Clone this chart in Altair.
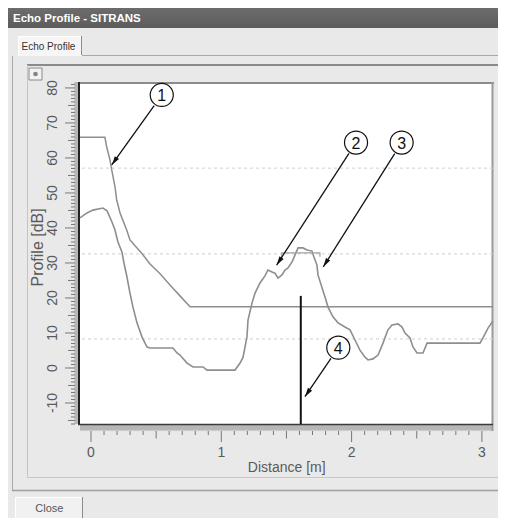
import math
import altair as alt
import pandas as pd

# ---------------- data ----------------
echo_dist = [-0.084, -0.031, 0.015, 0.092, 0.123, 0.161, 0.184, 0.207, 0.238, 0.253,
             0.276, 0.299, 0.322, 0.353, 0.391, 0.430, 0.453, 0.530, 0.629, 0.660,
             0.683, 0.737, 0.783, 0.860, 0.890, 0.990, 1.105, 1.144, 1.167, 1.197,
             1.205, 1.236, 1.259, 1.297, 1.335, 1.358, 1.389, 1.412, 1.435, 1.466,
             1.489, 1.512, 1.543, 1.566, 1.589, 1.627, 1.658, 1.696, 1.711, 1.734,
             1.742, 1.773, 1.796, 1.819, 1.857, 1.896, 1.949, 1.988, 2.026, 2.064,
             2.103, 2.126, 2.164, 2.203, 2.241, 2.279, 2.310, 2.356, 2.387, 2.410,
             2.448, 2.471, 2.502, 2.548, 2.579, 2.625, 2.985, 3.008, 3.047, 3.085]
echo_db = [42.9, 44.3, 45.1, 45.7, 44.9, 41.7, 39.4, 36.0, 33.1, 30.0,
           26.0, 21.4, 17.4, 12.9, 8.9, 6.0, 5.7, 5.7, 5.7, 4.3,
           3.7, 1.4, 0.3, 0.3, -0.6, -0.6, -0.6, 1.4, 3.1, 8.9,
           13.7, 18.6, 21.4, 24.3, 26.3, 28.0, 27.4, 27.1, 25.7, 26.6,
           28.0, 28.6, 30.3, 32.3, 34.3, 34.3, 33.7, 33.4, 31.7, 29.4,
           26.6, 22.9, 20.3, 17.4, 14.6, 12.9, 11.7, 10.9, 8.0, 5.1,
           3.1, 2.3, 2.6, 3.7, 7.1, 10.9, 12.3, 12.6, 11.7, 10.0,
           8.6, 6.0, 4.3, 4.3, 7.1, 7.1, 7.1, 8.6, 11.4, 13.4]

tvt_dist = [-0.084, 0.107, 0.120, 0.146, 0.159, 0.184, 0.197, 0.223, 0.274, 0.299,
            0.338, 0.389, 0.453, 0.530, 0.606, 0.683, 0.760, 3.085]
tvt_db = [65.9, 65.9, 63.2, 59.4, 56.6, 51.8, 48.0, 44.3, 39.4, 36.6,
          34.9, 32.8, 29.7, 26.9, 23.7, 20.6, 17.5, 17.5]

bracket_dist = [1.464, 1.464, 1.757, 1.757]
bracket_db = [31.8, 32.9, 32.9, 31.8]

marker_dist = 1.61
marker_db = [-16.0, 20.6]

grid_db = [57.1, 32.6, 8.3]

x_labels = [0, 1, 2, 3]
y_labels = [-10, 0, 10, 20, 30, 40, 50, 60, 70, 80]
x_title = "Distance [m]"
y_title = "Profile [dB]"

callout_text = ["1", "2", "3", "4"]
callout_cx = [0.543, 2.034, 2.384, 1.898]
callout_cy = [78.0, 64.4, 64.4, 5.8]
callout_tx = [0.159, 1.425, 1.783, 1.642]
callout_ty = [58.0, 29.4, 28.9, -8.2]

# ---------------- layout ----------------
X_DOM = [-0.0844, 3.0852]
Y_DOM = [-16.0, 81.7]
W, H = 413, 342
OX, OY = 80, 82          # picture position of the plot's top-left corner (chrome only)
FONT = "Liberation Sans"
TXT = "#5a5a5a"
TICK = "#777777"
XS = alt.Scale(domain=X_DOM, nice=False, zero=False)
YS = alt.Scale(domain=Y_DOM, nice=False, zero=False)
one = pd.DataFrame({"k": [0]})


def rect(x0, y0, x1, y1, **kw):
    return alt.Chart(one).mark_rect(**kw).encode(
        x=alt.value(x0 - OX), x2=alt.value(x1 - OX),
        y=alt.value(y0 - OY), y2=alt.value(y1 - OY))


def hline(x0, x1, y, color, w=1.0):
    return alt.Chart(one).mark_rule(color=color, strokeWidth=w).encode(
        x=alt.value(x0 - OX), x2=alt.value(x1 - OX), y=alt.value(y - OY))


def vline(x, y0, y1, color, w=1.0):
    return alt.Chart(one).mark_rule(color=color, strokeWidth=w).encode(
        x=alt.value(x - OX), y=alt.value(y0 - OY), y2=alt.value(y1 - OY))


def label(x, y, s, **kw):
    return alt.Chart(one).mark_text(text=s, font=FONT, **kw).encode(
        x=alt.value(x - OX), y=alt.value(y - OY))


# ---------------- window chrome ----------------
chrome = [
    rect(0, 0, 510, 28, fill={"gradient": "linear", "x1": 0, "x2": 0, "y1": 0, "y2": 1,
                              "stops": [{"offset": 0, "color": "#8a8a8a"},
                                        {"offset": 0.3, "color": "#6c6c6c"},
                                        {"offset": 1, "color": "#5c5c5c"}]}),
    label(13, 21.5, "Echo Profile - SITRANS", fontSize=11.5, fontWeight="bold",
          color="white", align="left", baseline="alphabetic"),
    # tab
    rect(18, 36, 82, 56, fill="#f6f6f6"),
    hline(18, 81, 36.5, "#ffffff"),
    vline(18.5, 36, 56, "#ffffff"),
    vline(81.5, 36, 55, "#8c8c8c"),
    label(21.5, 49.5, "Echo Profile", fontSize=10, color="#333333",
          align="left", baseline="alphabetic"),
    # tab page
    hline(82, 510, 55.5, "#a8a8a8"),
    vline(12.5, 56, 490, "#a8a8a8"),
    hline(12, 510, 490.5, "#a0a0a0", 1.5),
    # inner chart panel
    hline(27, 510, 65, "#8a8a8a", 2),
    vline(27.5, 65, 477, "#c4c4c4"),
    hline(27, 510, 477.5, "#c8c8c8"),
    rect(29, 68, 42, 80, fill="#f2f2f2", stroke="#8a8a8a", strokeWidth=1),
    alt.Chart(one).mark_point(shape="circle", filled=True, color="#555555", size=22).encode(
        x=alt.value(35.5 - OX), y=alt.value(74 - OY)),
    # scroll bars on the axes
    rect(74.5, 82, 79, 424, fill="#b6b6b6"),
    rect(80, 424, 493, 431, fill="#b6b6b6"),
    hline(80, 493, 431, "#e4e4e4"),
    # plot frame
    hline(78, 494, 83, "#8c8c8c", 2),
    vline(492.5, 82, 431, "#9a9a9a", 2),
    vline(79, 82, 425, "#222222", 2),
    hline(78, 493, 424.5, "#3a3a3a", 1.5),
    # close button
    rect(15, 497, 83, 519, fill="#f1f1f1"),
    hline(15, 83, 497.5, "#ffffff"),
    vline(15.5, 497, 519, "#ffffff"),
    vline(82.5, 497, 519, "#8a8a8a"),
    label(49.3, 511.5, "Close", fontSize=11, color="#555555",
          align="center", baseline="alphabetic"),
    # axis titles
    label(286.7, 471.7, x_title, fontSize=14, color=TXT, align="center",
          baseline="alphabetic"),
    label(43.3, 247.4, y_title, fontSize=16, color=TXT, align="center",
          baseline="alphabetic", angle=270),
]

# ---------------- axis ticks and labels (through the scales) ----------------
y_minor = pd.DataFrame({"v": [v for v in range(-16, 82) if v % 5 != 0]})
y_mid = pd.DataFrame({"v": [v for v in range(-15, 82, 10)]})
y_major = pd.DataFrame({"v": y_labels, "t": [str(v) for v in y_labels]})
x_minor = pd.DataFrame({"v": [i / 10 for i in range(0, 31) if i % 5 != 0]})
x_mid = pd.DataFrame({"v": [0.5, 1.5, 2.5]})
x_major = pd.DataFrame({"v": x_labels, "t": [str(v) for v in x_labels]})

ticks = [
    alt.Chart(y_minor).mark_rule(color=TICK, strokeWidth=1).encode(
        y=alt.Y("v:Q", scale=YS, axis=None), x=alt.value(71 - OX), x2=alt.value(75 - OX)),
    alt.Chart(y_mid).mark_rule(color=TICK, strokeWidth=1).encode(
        y=alt.Y("v:Q", scale=YS, axis=None), x=alt.value(68 - OX), x2=alt.value(75 - OX)),
    alt.Chart(y_major).mark_rule(color=TICK, strokeWidth=1).encode(
        y=alt.Y("v:Q", scale=YS, axis=None), x=alt.value(65 - OX), x2=alt.value(75 - OX)),
    alt.Chart(y_major).mark_text(font=FONT, fontSize=14, color=TXT, angle=270,
                                 align="center", baseline="middle").encode(
        y=alt.Y("v:Q", scale=YS, axis=None), x=alt.value(53.3 - OX), text="t:N"),
    alt.Chart(x_minor).mark_rule(color=TICK, strokeWidth=1).encode(
        x=alt.X("v:Q", scale=XS, axis=None), y=alt.value(431 - OY), y2=alt.value(435 - OY)),
    alt.Chart(x_mid).mark_rule(color=TICK, strokeWidth=1).encode(
        x=alt.X("v:Q", scale=XS, axis=None), y=alt.value(431 - OY), y2=alt.value(438.5 - OY)),
    alt.Chart(x_major).mark_rule(color=TICK, strokeWidth=1).encode(
        x=alt.X("v:Q", scale=XS, axis=None), y=alt.value(431 - OY), y2=alt.value(442 - OY)),
    alt.Chart(x_major).mark_text(font=FONT, fontSize=14, color=TXT, align="center",
                                 baseline="alphabetic").encode(
        x=alt.X("v:Q", scale=XS, axis=None), y=alt.value(457.3 - OY), text="t:N"),
]

# ---------------- data layers ----------------
echo = pd.DataFrame({"d": echo_dist, "db": echo_db, "o": range(len(echo_dist))})
tvt = pd.DataFrame({"d": tvt_dist, "db": tvt_db, "o": range(len(tvt_dist))})
bracket = pd.DataFrame({"d": bracket_dist, "db": bracket_db, "o": range(4)})
grid = pd.DataFrame({"g": grid_db})
marker = pd.DataFrame({"d": [marker_dist], "y0": [marker_db[0]], "y1": [marker_db[1]]})

gridl = alt.Chart(grid).mark_rule(color="#cfcfcf", strokeDash=[3, 3], strokeWidth=1).encode(
    y=alt.Y("g:Q", scale=YS, axis=None))

echo_line = alt.Chart(echo).mark_line(color="#8e8e8e", strokeWidth=1.6).encode(
    x=alt.X("d:Q", scale=XS, axis=None), y=alt.Y("db:Q", scale=YS, axis=None), order="o:Q")

tvt_line = alt.Chart(tvt).mark_line(color="#8e8e8e", strokeWidth=1.5).encode(
    x=alt.X("d:Q", scale=XS, axis=None), y=alt.Y("db:Q", scale=YS, axis=None), order="o:Q")

bracket_line = alt.Chart(bracket).mark_line(color="#a0a0a0", strokeWidth=1.2).encode(
    x=alt.X("d:Q", scale=XS, axis=None), y=alt.Y("db:Q", scale=YS, axis=None), order="o:Q")

marker_rule = alt.Chart(marker).mark_rule(color="#111111", strokeWidth=2).encode(
    x=alt.X("d:Q", scale=XS, axis=None),
    y=alt.Y("y0:Q", scale=YS, axis=None), y2="y1:Q")

# ---------------- callouts ----------------
PXM = W / (X_DOM[1] - X_DOM[0])
PXDB = H / (Y_DOM[1] - Y_DOM[0])
R = 13.0
rows = []
for t, cx, cy, tx, ty in zip(callout_text, callout_cx, callout_cy, callout_tx, callout_ty):
    dx = (tx - cx) * PXM
    dy = -(ty - cy) * PXDB
    L = math.hypot(dx, dy)
    ux, uy = dx / L, dy / L
    rows.append({"t": t, "cx": cx, "cy": cy, "tx": tx, "ty": ty,
                 "sx": cx + ux * R / PXM, "sy": cy - uy * R / PXDB,
                 "ang": math.degrees(math.atan2(ux, -uy)) % 360})
call = pd.DataFrame(rows)

shafts = alt.Chart(call).mark_rule(color="#111111", strokeWidth=1.3).encode(
    x=alt.X("sx:Q", scale=XS, axis=None), y=alt.Y("sy:Q", scale=YS, axis=None),
    x2="tx:Q", y2="ty:Q")
heads = alt.Chart(call).mark_point(shape="M0,0L-1,3.6L1,3.6Z", filled=True, color="#111111",
                                   size=25, opacity=1).encode(
    x=alt.X("tx:Q", scale=XS, axis=None), y=alt.Y("ty:Q", scale=YS, axis=None),
    angle=alt.Angle("ang:Q", scale=None))
circles = alt.Chart(call).mark_point(shape="circle", filled=True, fill="white", stroke="#111111",
                                     strokeWidth=1.2, size=math.pi * R * R, opacity=1).encode(
    x=alt.X("cx:Q", scale=XS, axis=None), y=alt.Y("cy:Q", scale=YS, axis=None))
nums = alt.Chart(call).mark_text(font=FONT, fontSize=16, color="#111111", align="center",
                                 baseline="middle", dy=1).encode(
    x=alt.X("cx:Q", scale=XS, axis=None), y=alt.Y("cy:Q", scale=YS, axis=None), text="t:N")

layers = chrome + ticks + [gridl, tvt_line, echo_line, bracket_line, marker_rule,
                           shafts, heads, circles, nums]

chart = alt.layer(*layers).properties(
    width=W, height=H,
    padding={"left": 72, "top": 74, "right": 5, "bottom": 94},
    autosize=alt.AutoSizeParams(type="none"),
    background="#e9e9e9",
).configure_view(fill="white", stroke=None)

chart.save("out.html", embed_options={"renderer": "svg", "actions": False})
